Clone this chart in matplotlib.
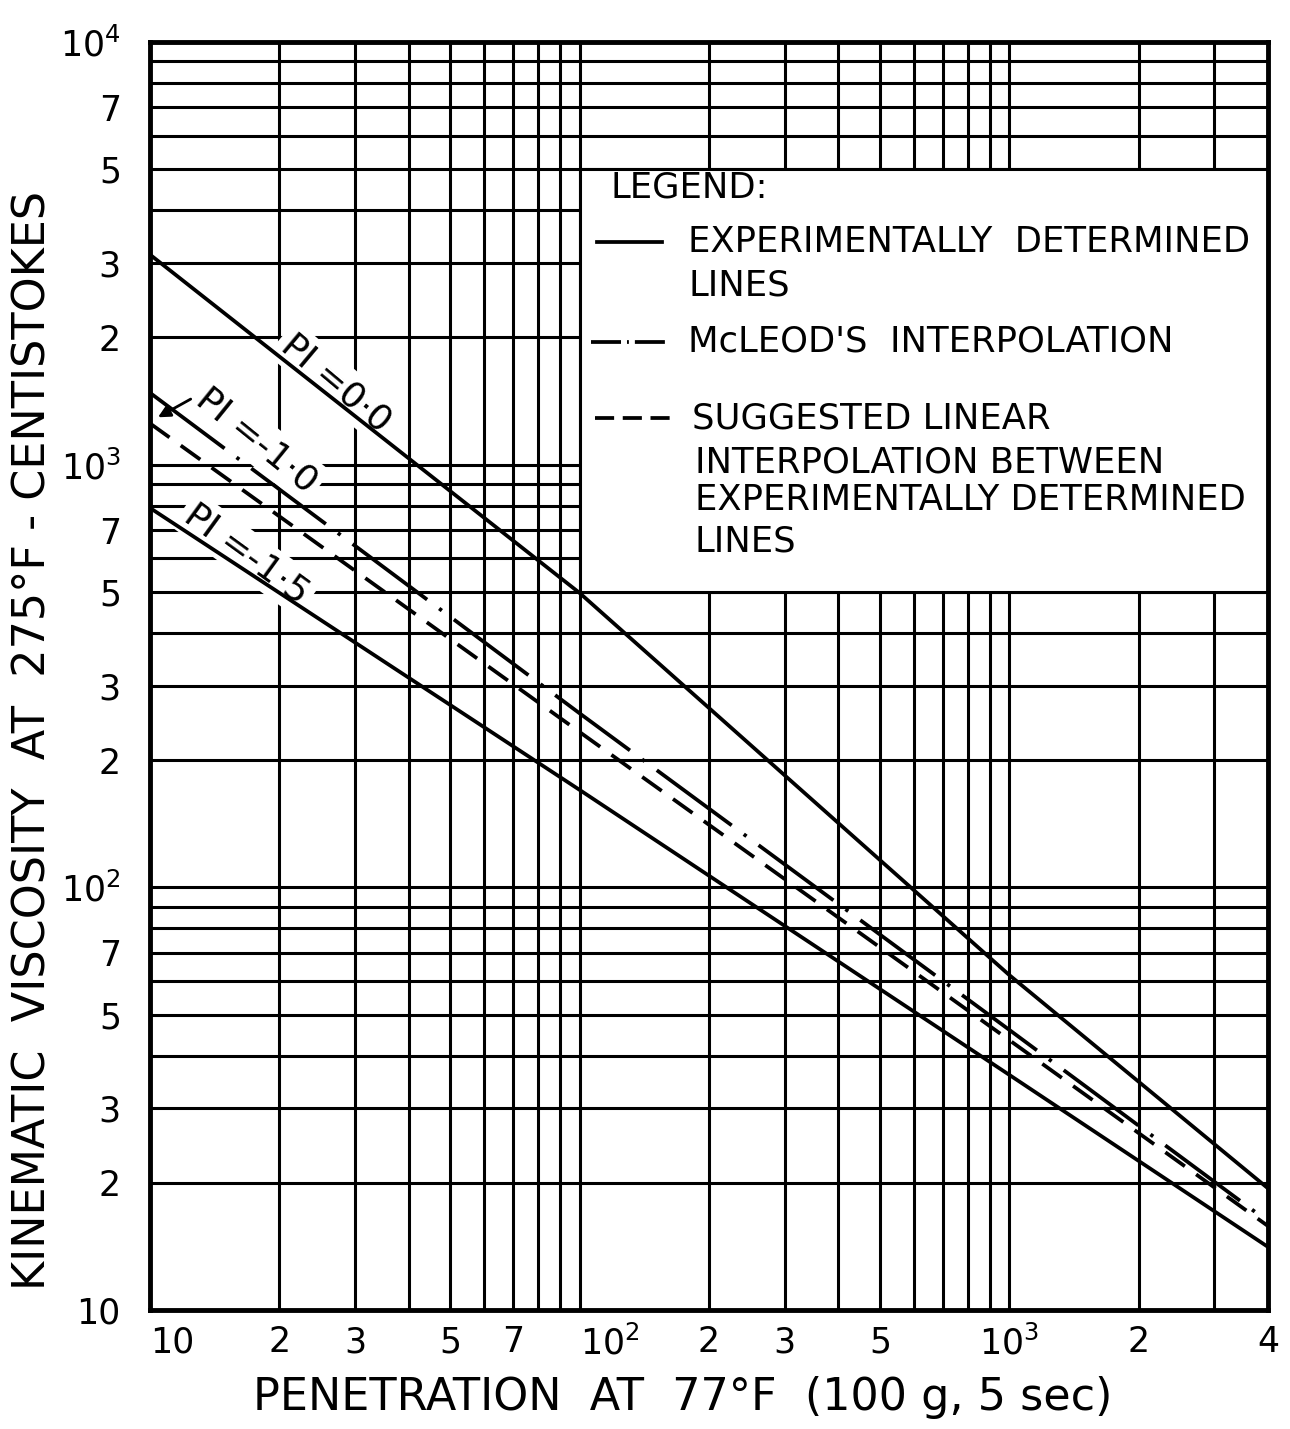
import numpy as np
import matplotlib.pyplot as plt
from matplotlib.patches import Rectangle

plt.rcParams['font.family'] = ['DejaVu Sans']
plt.rcParams['mathtext.default'] = 'regular'

# penetration at 77F (x) vs kinematic viscosity at 275F (y)
pen = [10, 100, 1000, 4000]
visc_pi_0 = [3140, 497, 62, 19.4]
visc_pi_15 = [790, 170, 36, 14.1]
visc_mcleod = [1479, 258, 46, 16.2]
visc_linear = [1252, 233, 43.5, 15.8]

x_ticks = [10, 20, 30, 50, 70, 100, 200, 300, 500, 1000, 2000, 4000]
x_labels = ['10', '2', '3', '5', '7', '$10^2$', '2', '3', '5', '$10^3$', '2', '4']
y_ticks = [10, 20, 30, 50, 70, 100, 200, 300, 500, 700, 1000, 2000, 3000, 5000, 7000, 10000]
y_labels = ['10', '2', '3', '5', '7', '$10^2$', '2', '3', '5', '7', '$10^3$', '2', '3', '5', '7', '$10^4$']

# legend panel sits on the grid between these gridlines
legend_x = [100, 4000]
legend_y = [500, 5000]

W, H = 1290, 1429
L, R, T, B = 150, 1268, 42, 1310

fig = plt.figure(figsize=(W / 100, H / 100), dpi=100)
ax = fig.add_axes([L / W, 1 - B / H, (R - L) / W, (B - T) / H])
ax.set_xscale('log')
ax.set_yscale('log')
ax.set_xlim(10, 4000)
ax.set_ylim(10, 10000)


def fx(px):
    return (px - L) / (R - L)


def fy(py):
    return (B - py) / (B - T)


x_grid = [m * 10 ** e for e in (1, 2, 3) for m in range(1, 10) if 10 < m * 10 ** e < 4000]
y_grid = [m * 10 ** e for e in (1, 2, 3) for m in range(1, 10) if 10 < m * 10 ** e < 10000]
ax.set_xticks(x_grid, minor=True)
ax.set_yticks(y_grid, minor=True)
ax.set_xticks(x_ticks, x_labels)
ax.set_yticks(y_ticks, y_labels)
ax.xaxis.set_minor_formatter(plt.NullFormatter())
ax.yaxis.set_minor_formatter(plt.NullFormatter())
ax.tick_params(which='both', length=0, labelsize=25)
ax.tick_params(axis='y', pad=21)
ax.tick_params(axis='x', pad=11)
xt = ax.get_xticklabels()
xt[0].set_horizontalalignment('left')
xt[5].set_horizontalalignment('left')
ax.set_axisbelow(True)
ax.grid(which='both', color='black', lw=2.2)
for s in ax.spines.values():
    s.set_linewidth(3.5)

# data lines
ax.plot(pen, visc_pi_0, color='black', lw=2.7, zorder=4)
ax.plot(pen, visc_pi_15, color='black', lw=2.7, zorder=4)
ax.plot(pen, visc_mcleod, color='black', lw=2.7, zorder=4,
        linestyle=(0, (24.8, 4.0, 0.9, 4.0)))
ax.plot(pen, visc_linear, color='black', lw=2.7, zorder=4,
        linestyle=(0, (6.4, 3.7)))

lbl = dict(fontsize=26, ha='center', va='center', rotation_mode='anchor', zorder=3,
           bbox=dict(facecolor='white', edgecolor='none', pad=4))
ax.text(27.1, 1560, 'PI =0\u00b70', rotation=-40, **lbl)
ax.text(17.7, 1144, 'PI =-1\u00b70', rotation=-39, **lbl)
ax.text(16.8, 615, 'PI =-1\u00b75', rotation=-36, **lbl)
ax.annotate('', xy=(10.3, 1285), xytext=(12.6, 1440),
            arrowprops=dict(arrowstyle='-|>', lw=2, color='black', mutation_scale=18),
            zorder=4)

# legend panel
ax.add_patch(Rectangle((legend_x[0], legend_y[0]), legend_x[1] - legend_x[0],
                       legend_y[1] - legend_y[0], facecolor='white',
                       edgecolor='black', lw=2.2, zorder=2))
tx = dict(fontsize=25.5, ha='left', va='center', transform=ax.transAxes, zorder=3)
ax.text(fx(610), fy(188), 'LEGEND:', **tx)
ax.plot([fx(597), fx(662)], [fy(242)] * 2, transform=ax.transAxes, color='black', lw=2.7, zorder=3)
ax.plot([fx(591), fx(670)], [fy(342)] * 2, transform=ax.transAxes, color='black', lw=2.7, zorder=3,
        linestyle=(0, (8.0, 1.6, 0.5, 1.6)))
ax.plot([fx(595), fx(672)], [fy(418)] * 2, transform=ax.transAxes, color='black', lw=2.7, zorder=3,
        linestyle=(0, (5.1, 2.3)))
for txt, xp, yp in [('EXPERIMENTALLY  DETERMINED', 688, 242), ('LINES', 688, 285),
                    ("McLEOD'S  INTERPOLATION", 688, 342),
                    ('SUGGESTED LINEAR', 692, 418), ('INTERPOLATION BETWEEN', 695, 462),
                    ('EXPERIMENTALLY DETERMINED', 695, 500), ('LINES', 695, 541)]:
    ax.text(fx(xp), fy(yp), txt, **tx)

ax.set_ylabel('KINEMATIC  VISCOSITY  AT  275\u00b0F - CENTISTOKES', fontsize=32)
ax.yaxis.set_label_coords(fx(55), fy(740))
ax.set_xlabel('PENETRATION  AT  77\u00b0F  (100 g, 5 sec)', fontsize=32, va='top')
ax.xaxis.set_label_coords(fx(683), fy(1376))

fig.savefig('out.png', dpi=100, facecolor='white')
